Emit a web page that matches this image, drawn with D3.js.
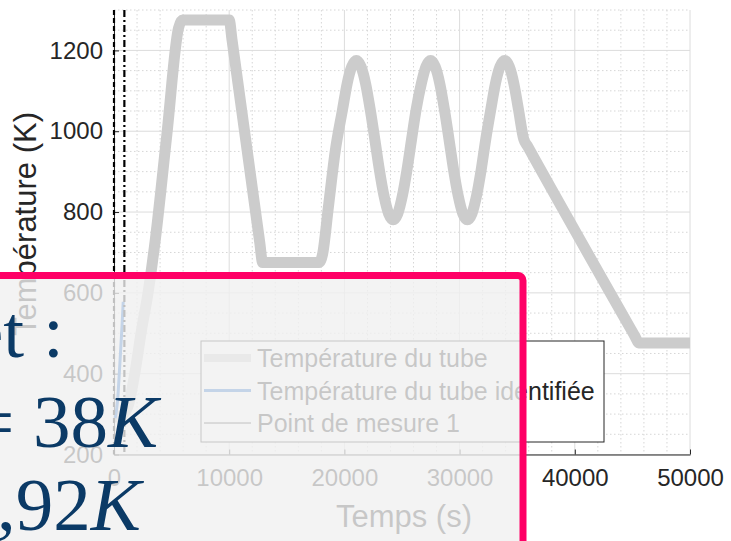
<!DOCTYPE html>
<html>
<head>
<meta charset="utf-8">
<script src="https://cdn.jsdelivr.net/npm/d3@7"></script>
<style>
	body { margin: 0; background: #fff; }
	svg { display: block; font-family: "Liberation Sans", Arial, sans-serif; }
</style>
</head>
<body>
<svg width="731" height="541"></svg>
<script>
// tube temperature
const tubeTime = [0, 600, 1200, 1800, 2400, 2900, 3600, 4600, 5600, 5950, 10000, 10250, 12650, 12900, 17800, 18100, 18600, 19200, 19840, 20240, 20640, 21040, 21440, 21840, 22240, 22640, 23040, 23440, 23840, 24230, 24630, 25030, 25430, 25830, 26230, 26680, 27080, 27480, 27880, 28280, 28680, 29080, 29480, 29880, 30280, 30670, 31070, 31470, 31870, 32270, 32710, 33110, 33510, 33910, 34310, 34710, 35110, 35570, 35900, 45250, 45550, 50000];
const tubeTemp = [293, 296, 318, 400, 510, 590, 735, 995, 1255, 1275, 1275, 1225, 725, 675, 675, 695, 810, 950, 1054, 1118, 1160, 1175, 1160, 1118, 1054, 980, 904, 840, 796, 781, 796, 840, 904, 980, 1054, 1118, 1160, 1175, 1160, 1118, 1054, 980, 904, 840, 796, 781, 796, 840, 904, 980, 1054, 1118, 1160, 1175, 1160, 1118, 1054, 980, 963, 491, 476, 476];

// identified temperature, only on the short window
const identTime = [100, 300, 500, 700, 800];
const identTemp = [290, 330, 420, 520, 578];

// vertical markers
const markTimes = [0, 900];

const xTicks = [0, 10000, 20000, 30000, 40000, 50000];
const yTicks = [200, 400, 600, 800, 1000, 1200];
const legendLabels = ["Température du tube", "Température du tube identifiée", "Point de mesure 1"];
const noteLines = ["et :", "= 38", ",92"];

const svg = d3.select("svg");

const xScale = d3.scaleLinear().domain([0, 50000]).range([114, 690]);
const yScale = d3.scaleLinear().domain([200, 1300]).range([454.5, 10]);

// grid
const grid = svg.append("g");
const xMinor = d3.range(0, 50001, 2000).filter((v) => v % 10000 !== 0);
const yMinor = d3.range(200, 1301, 50).filter((v) => v % 200 !== 0);

grid.selectAll(".xminor").data(xMinor).enter().append("line")
	.attr("x1", (d) => xScale(d)).attr("x2", (d) => xScale(d))
	.attr("y1", yScale(1300)).attr("y2", yScale(200))
	.attr("stroke", "#d6d6d6").attr("stroke-dasharray", "1.5,2.5");
grid.selectAll(".yminor").data(yMinor).enter().append("line")
	.attr("x1", xScale(0)).attr("x2", xScale(50000))
	.attr("y1", (d) => yScale(d)).attr("y2", (d) => yScale(d))
	.attr("stroke", "#d6d6d6").attr("stroke-dasharray", "1.5,2.5");
grid.selectAll(".xmajor").data(xTicks).enter().append("line")
	.attr("x1", (d) => xScale(d)).attr("x2", (d) => xScale(d))
	.attr("y1", yScale(1300)).attr("y2", yScale(200))
	.attr("stroke", "#dcdcdc");
grid.selectAll(".ymajor").data(yTicks).enter().append("line")
	.attr("x1", xScale(0)).attr("x2", xScale(50000))
	.attr("y1", (d) => yScale(d)).attr("y2", (d) => yScale(d))
	.attr("stroke", "#dcdcdc");

// axes
const xAxis = svg.append("g")
	.attr("transform", `translate(0,${yScale(200)})`)
	.call(d3.axisBottom(xScale).tickValues(xTicks).tickFormat(d3.format("d"))
		.tickSizeInner(-5).tickSizeOuter(0).tickPadding(14));
const yAxis = svg.append("g")
	.attr("transform", `translate(${xScale(0)},0)`)
	.call(d3.axisLeft(yScale).tickValues(yTicks).tickFormat(d3.format("d"))
		.tickSizeInner(-5).tickSizeOuter(0).tickPadding(11));
[xAxis, yAxis].forEach((a) => {
	a.select(".domain").attr("stroke", "#262626");
	a.selectAll(".tick line").attr("stroke", "#262626");
	a.selectAll(".tick text").attr("fill", "#262626").attr("font-size", 24)
		.attr("font-family", "Liberation Sans, Arial, sans-serif");
});

svg.append("text")
	.attr("x", 404).attr("y", 527)
	.attr("text-anchor", "middle").attr("font-size", 31).attr("fill", "#262626")
	.text("Temps (s)");
svg.append("text")
	.attr("transform", "translate(36,224) rotate(-90)")
	.attr("text-anchor", "middle").attr("font-size", 31).attr("fill", "#262626")
	.text("Température (K)");

// series
const line = d3.line().x((d) => xScale(d[0])).y((d) => yScale(d[1])).curve(d3.curveMonotoneX);

svg.append("path")
	.datum(tubeTime.map((t, i) => [t, tubeTemp[i]]))
	.attr("d", line)
	.attr("fill", "none").attr("stroke", "#cccccc")
	.attr("stroke-width", 11).attr("stroke-linejoin", "round");

svg.append("path")
	.datum(identTime.map((t, i) => [t, identTemp[i]]))
	.attr("d", line)
	.attr("fill", "none").attr("stroke", "#1565c8").attr("stroke-width", 3);

svg.selectAll(".mark").data(markTimes).enter().append("line")
	.attr("x1", (d) => xScale(d)).attr("x2", (d) => xScale(d))
	.attr("y1", yScale(1300)).attr("y2", yScale(200))
	.attr("stroke", "#000").attr("stroke-width", 2.2)
	.attr("stroke-dasharray", (d, i) => (i === 0 ? "5,3" : "7,3,2,3"));

// legend
const legend = svg.append("g");
legend.append("rect")
	.attr("x", 201).attr("y", 341).attr("width", 403).attr("height", 101)
	.attr("fill", "#fff").attr("stroke", "#262626").attr("stroke-width", 1);
const legendStyles = [
	{ color: "#cccccc", width: 8 },
	{ color: "#1565c8", width: 3 },
	{ color: "#000000", width: 1 },
];
const rows = legend.selectAll(".row").data(legendLabels).enter().append("g")
	.attr("transform", (d, i) => `translate(0,${358 + i * 32.5})`);
rows.append("line")
	.attr("x1", 204).attr("x2", 251)
	.attr("stroke", (d, i) => legendStyles[i].color)
	.attr("stroke-width", (d, i) => legendStyles[i].width);
rows.append("text")
	.attr("x", 257).attr("y", 9)
	.attr("font-size", 25).attr("fill", "#262626")
	.text((d) => d);

// slide overlay on top of the figure
svg.append("rect")
	.attr("x", -20).attr("y", 275.5).attr("width", 543).attr("height", 300).attr("rx", 5)
	.attr("fill", "#f0f0f0").attr("fill-opacity", 0.8)
	.attr("stroke", "#ff0066").attr("stroke-width", 7);

const note = svg.append("g")
	.attr("font-family", "Liberation Serif, Times New Roman, serif")
	.attr("font-size", 75).attr("fill", "#0b3a66");
const noteX = [-30, -28, -3];
const noteY = [357, 447, 530];
noteLines.forEach((s, i) => {
	const t = note.append("text").attr("x", noteX[i]).attr("y", noteY[i]);
	t.append("tspan").text(s);
	if (i > 0) t.append("tspan").attr("font-style", "italic").text("K");
});
</script>
</body>
</html>
